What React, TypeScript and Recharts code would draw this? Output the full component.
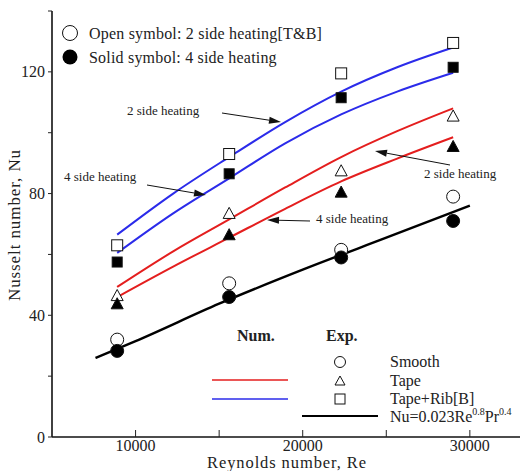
import React from 'react';
import { ComposedChart, Line, Scatter, XAxis, YAxis } from 'recharts';

// Experimental Reynolds numbers
const reExp = [8900, 15600, 22300, 29000];
// open = 2 side heating [T&B], solid = 4 side heating
const smoothOpen = [32, 50.5, 61.5, 79];
const smoothSolid = [28.3, 46, 59, 71];
const tapeOpen = [46.5, 73.5, 87.5, 105.5];
const tapeSolid = [43.8, 66.5, 80.5, 95.5];
const ribOpen = [63, 93, 119.5, 129.5];
const ribSolid = [57.5, 86.5, 111.5, 121.5];

// Numerical results
const reNum = [8900, 12250, 15600, 18950, 22300, 25650, 29000];
const tape2Side = [49.3, 61, 71.5, 82, 92, 100.5, 108];
const tape4Side = [46, 56, 65.5, 75, 84, 91.5, 98.5];
const rib2Side = [66.5, 80, 92, 103.5, 113.5, 121.5, 128];
const rib4Side = [60.5, 73.5, 85, 96.5, 106, 113.5, 119.7];

// Dittus-Boelter correlation
const reDB = [7600, 10000, 15000, 20000, 25000, 30000];
const nuDB = [26, 31.5, 43.8, 55, 65.5, 76];

const xTicks = [10000, 15000, 20000, 25000, 30000];
const yTicks = [0, 20, 40, 60, 80, 100, 120, 140];
const xLabelled = [10000, 20000, 30000];
const yLabelled = [0, 40, 80, 120];

const toPts = (xs: number[], ys: number[]) => xs.map((re, i) => ({ re, nu: ys[i] }));

const FONT = '"Liberation Serif", "Times New Roman", serif';
const RED = '#e41e1e';
const BLUE = '#2b2bea';

type ShapeProps = { cx?: number; cy?: number };

const circle = (filled: boolean, r = 6.5) => (p: ShapeProps) => (
  <circle cx={p.cx} cy={p.cy} r={r} fill={filled ? '#000' : '#fff'} stroke="#111" strokeWidth={1} />
);
const triangle = (filled: boolean, s = 6) => (p: ShapeProps) => {
  const cx = p.cx ?? 0;
  const cy = p.cy ?? 0;
  return (
    <polygon
      points={`${cx},${cy - s} ${cx - s},${cy + s * 0.85} ${cx + s},${cy + s * 0.85}`}
      fill={filled ? '#000' : '#fff'}
      stroke="#111"
      strokeWidth={1}
    />
  );
};
const square = (filled: boolean, s = 5.5) => (p: ShapeProps) => (
  <rect
    x={(p.cx ?? 0) - s}
    y={(p.cy ?? 0) - s}
    width={s * 2}
    height={s * 2}
    fill={filled ? '#000' : '#fff'}
    stroke="#111"
    strokeWidth={1}
  />
);

// bottom axis: ticks point into the plot, labels below
const BottomTick = (props: any) => {
  const { x, y, payload } = props;
  return (
    <g>
      <line x1={x} y1={y} x2={x} y2={y - 7} stroke="#222" strokeWidth={1} />
      {xLabelled.includes(payload.value) && (
        <text x={x} y={y + 14} textAnchor="middle" fontSize={16} fontFamily={FONT} fill="#222">
          {payload.value}
        </text>
      )}
    </g>
  );
};

const LeftTick = (props: any) => {
  const { x, y, payload } = props;
  return (
    <g>
      <line x1={x + 7} y1={y} x2={x + 3} y2={y} stroke="#222" strokeWidth={1} />
      {yLabelled.includes(payload.value) && (
        <text x={x} y={y + 5.5} textAnchor="end" fontSize={16} fontFamily={FONT} fill="#222">
          {payload.value}
        </text>
      )}
    </g>
  );
};

const TopTick = (props: any) => (
  <line x1={props.x} y1={props.y} x2={props.x} y2={props.y + 7} stroke="#333" strokeWidth={1} />
);

const RightTick = (props: any) => (
  <line x1={props.x} y1={props.y} x2={props.x - 7} y2={props.y} stroke="#333" strokeWidth={1} />
);

const Arrow = ({ x1, y1, x2, y2 }: { x1: number; y1: number; x2: number; y2: number }) => {
  const a = Math.atan2(y2 - y1, x2 - x1);
  const len = 12;
  const w = 3.5;
  const bx = x2 - len * Math.cos(a);
  const by = y2 - len * Math.sin(a);
  const px = -Math.sin(a) * w;
  const py = Math.cos(a) * w;
  return (
    <g>
      <line x1={x1} y1={y1} x2={bx} y2={by} stroke="#111" strokeWidth={1} />
      <polygon points={`${x2},${y2} ${bx + px},${by + py} ${bx - px},${by - py}`} fill="#111" />
    </g>
  );
};

export default function App() {
  return (
    <div style={{ position: 'absolute', left: 0, top: 0, width: 529, height: 471, background: '#fff' }}>
      <ComposedChart width={529} height={471} margin={{ top: 11, right: 9, bottom: 0, left: 0 }}>
        <XAxis
          dataKey="re"
          type="number"
          domain={[5000, 33000]}
          ticks={xTicks}
          interval={0}
          allowDataOverflow
          height={34}
          tickSize={0}
          tickMargin={0}
          tick={<BottomTick />}
          axisLine={{ stroke: '#111', strokeWidth: 1.6 }}
        />
        <XAxis
          xAxisId="top"
          orientation="top"
          dataKey="re"
          type="number"
          domain={[5000, 33000]}
          ticks={xTicks}
          interval={0}
          allowDataOverflow
          height={0}
          tickSize={0}
          tickMargin={0}
          tick={<TopTick />}
          axisLine={{ stroke: '#555', strokeWidth: 1 }}
        />
        <YAxis
          type="number"
          domain={[0, 140]}
          ticks={yTicks}
          interval={0}
          allowDataOverflow
          width={52}
          tickSize={0}
          tickMargin={7}
          tick={<LeftTick />}
          axisLine={{ stroke: '#111', strokeWidth: 1.6 }}
        />
        <YAxis
          yAxisId="right"
          orientation="right"
          type="number"
          domain={[0, 140]}
          ticks={yTicks}
          interval={0}
          allowDataOverflow
          width={0}
          tickSize={0}
          tickMargin={0}
          tick={<RightTick />}
          axisLine={{ stroke: '#555', strokeWidth: 1 }}
        />

        <Line data={toPts(reDB, nuDB)} dataKey="nu" type="monotone" stroke="#000" strokeWidth={2.4} dot={false} isAnimationActive={false} />
        <Line data={toPts(reNum, tape2Side)} dataKey="nu" type="monotone" stroke={RED} strokeWidth={2} dot={false} isAnimationActive={false} />
        <Line data={toPts(reNum, tape4Side)} dataKey="nu" type="monotone" stroke={RED} strokeWidth={2} dot={false} isAnimationActive={false} />
        <Line data={toPts(reNum, rib2Side)} dataKey="nu" type="monotone" stroke={BLUE} strokeWidth={2} dot={false} isAnimationActive={false} />
        <Line data={toPts(reNum, rib4Side)} dataKey="nu" type="monotone" stroke={BLUE} strokeWidth={2} dot={false} isAnimationActive={false} />

        <Scatter data={toPts(reExp, smoothOpen)} dataKey="nu" shape={circle(false)} isAnimationActive={false} />
        <Scatter data={toPts(reExp, tapeOpen)} dataKey="nu" shape={triangle(false)} isAnimationActive={false} />
        <Scatter data={toPts(reExp, ribOpen)} dataKey="nu" shape={square(false)} isAnimationActive={false} />
        <Scatter data={toPts(reExp, smoothSolid)} dataKey="nu" shape={circle(true)} isAnimationActive={false} />
        <Scatter data={toPts(reExp, tapeSolid)} dataKey="nu" shape={triangle(true)} isAnimationActive={false} />
        <Scatter data={toPts(reExp, ribSolid)} dataKey="nu" shape={square(true, 5)} isAnimationActive={false} />
      </ComposedChart>

      {/* axis titles, legends and annotations */}
      <svg
        width={529}
        height={471}
        style={{ position: 'absolute', left: 0, top: 0, pointerEvents: 'none' }}
        fontFamily={FONT}
      >
        <text x={287} y={468} textAnchor="middle" fontSize={16.5} letterSpacing={0.9} fill="#222">
          Reynolds number, Re
        </text>
        <text
          x={20}
          y={225}
          textAnchor="middle"
          fontSize={17}
          letterSpacing={0.9}
          fill="#222"
          transform="rotate(-90 20 225)"
        >
          Nusselt number, Nu
        </text>

        <g fontSize={16} fill="#222">
          <circle cx={70} cy={33} r={7.5} fill="#fff" stroke="#111" />
          <text x={89} y={38.5} letterSpacing={0.2}>Open symbol: 2 side heating[T&amp;B]</text>
          <circle cx={70} cy={57} r={7.5} fill="#000" />
          <text x={89} y={62.5} letterSpacing={0.2}>Solid symbol: 4 side heating</text>
        </g>

        <g fontSize={13} fill="#222">
          <text x={127} y={115}>2 side heating</text>
          <Arrow x1={222} y1={113} x2={281} y2={122} />
          <text x={64} y={181}>4 side heating</text>
          <Arrow x1={147} y1={185} x2={206} y2={195} />
          <text x={424} y={178}>2 side heating</text>
          <Arrow x1={450} y1={165} x2={375} y2={151} />
          <text x={316} y={223}>4 side heating</text>
          <Arrow x1={310} y1={221} x2={267} y2={220} />
        </g>

        <g fontSize={16} fill="#222">
          <text x={237} y={341} fontWeight="bold">Num.</text>
          <text x={326} y={341} fontWeight="bold">Exp.</text>
          <circle cx={340} cy={362} r={5.5} fill="#fff" stroke="#111" />
          <polygon points="340,376 335,385 345,385" fill="#fff" stroke="#111" />
          <rect x={335} y={394} width={10} height={10} fill="#fff" stroke="#111" />
          <line x1={212} y1={380} x2={288} y2={380} stroke={RED} strokeWidth={1.5} />
          <line x1={212} y1={399} x2={288} y2={399} stroke={BLUE} strokeWidth={1.5} />
          <line x1={302} y1={416} x2={378} y2={416} stroke="#000" strokeWidth={2.2} />
          <text x={390} y={367}>Smooth</text>
          <text x={390} y={386}>Tape</text>
          <text x={390} y={404}>Tape+Rib[B]</text>
          <text x={390} y={422}>
            Nu=0.023Re
            <tspan fontSize={10} dy={-7}>0.8</tspan>
            <tspan dy={7}>Pr</tspan>
            <tspan fontSize={10} dy={-7}>0.4</tspan>
          </text>
        </g>
      </svg>
    </div>
  );
}
